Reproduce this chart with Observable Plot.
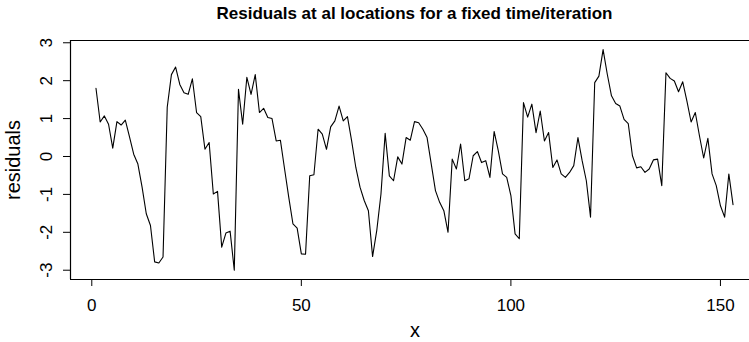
<!DOCTYPE html>
<html>
<head>
<meta charset="utf-8">
<script src="https://cdn.jsdelivr.net/npm/d3@7"></script>
<script src="https://cdn.jsdelivr.net/npm/@observablehq/plot@0.6"></script>
<style>
  html, body { margin: 0; padding: 0; background: #fff; overflow: hidden; }
  #title {
    box-sizing: border-box;
    width: 749px;
    height: 28px;
    padding-left: 80px;
    text-align: center;
    font: bold 17px "Liberation Sans", Arial, Helvetica, sans-serif;
    line-height: 28px;
    color: #000;
  }
  svg { display: block; }
</style>
</head>
<body>
<div id="title">Residuals at al locations for a fixed time/iteration</div>
<div id="chart"></div>
<script>
// Residual at each location (x = 1 … 153) for one fixed time/iteration
const residuals = [
   1.80,  0.91,  1.07,  0.85,  0.22,  0.92,  0.83,  0.96,  0.52,  0.06,
  -0.20, -0.81, -1.51, -1.82, -2.78, -2.81, -2.65,  1.30,  2.16,  2.36,
   1.90,  1.68,  1.64,  2.05,  1.16,  1.05,  0.19,  0.37, -0.99, -0.92,
  -2.39, -2.02, -1.97, -3.00,  1.77,  0.85,  2.09,  1.64,  2.16,  1.16,
   1.27,  1.03,  1.00,  0.41,  0.43, -0.33, -1.08, -1.78, -1.89, -2.57,
  -2.58, -0.51, -0.48,  0.72,  0.59,  0.19,  0.78,  0.94,  1.33,  0.94,
   1.05,  0.41, -0.29, -0.81, -1.16, -1.43, -2.64, -1.95, -0.99,  0.61,
  -0.51, -0.64, -0.01, -0.20,  0.50,  0.43,  0.92,  0.89,  0.72,  0.50,
  -0.20, -0.90, -1.21, -1.43, -2.00, -0.07, -0.33,  0.33, -0.64, -0.59,
   0.02,  0.13, -0.16, -0.11, -0.55,  0.66,  0.15, -0.46, -0.55, -1.03,
  -2.04, -2.17,  1.42,  1.04,  1.38,  0.63,  1.20,  0.41,  0.63, -0.29,
  -0.09, -0.46, -0.55, -0.42, -0.24,  0.50, -0.11, -0.64, -1.60,  1.95,
   2.12,  2.82,  2.17,  1.60,  1.40,  1.33,  0.98,  0.87,  0.02, -0.30,
  -0.27, -0.42, -0.33, -0.09, -0.07, -0.77,  2.21,  2.06,  1.99,  1.71,
   1.97,  1.46,  0.91,  1.16,  0.54, -0.04,  0.48, -0.46, -0.77, -1.30,
  -1.60, -0.46, -1.27
];

const xTicks = [0, 50, 100, 150];
const yTicks = [-3, -2, -1, 0, 1, 2, 3];
const xLabel = "x";
const yLabel = "residuals";

// plotting ranges padded 4% beyond the data, as in a classic R plot
const xDomain = [-5.08, 159.08];
const yDomain = [-3.245, 3.06];

const points = residuals.map((r, i) => ({x: i + 1, r}));

const font = "'Liberation Sans', Arial, Helvetica, sans-serif";

const chart = Plot.plot({
  width: 749,
  height: 314,
  marginLeft: 70,
  marginRight: 0,
  marginTop: 12,
  marginBottom: 63,
  style: {fontFamily: font, fontSize: "17px", color: "#000", background: "#fff", overflow: "visible"},
  x: {domain: xDomain, range: [70, 758], axis: null},
  y: {domain: yDomain, axis: null},
  marks: [
    // box on three sides (right side falls past the page edge)
    Plot.ruleY([yDomain[0], yDomain[1]], {stroke: "#000", strokeWidth: 1.2}),
    Plot.ruleX([xDomain[0]], {stroke: "#000", strokeWidth: 1.2}),

    // x axis: ticks hang below the box
    Plot.axisX(xTicks, {anchor: "bottom", tickSize: 7, tickPadding: 12, fontSize: 17, label: null, stroke: "#000"}),

    // y axis: ticks to the left, labels rotated
    Plot.axisY(yTicks, {anchor: "left", tickSize: 7, tickFormat: () => "", label: null, stroke: "#000"}),
    Plot.text(yTicks, {
      y: (d) => d, text: (d) => String(d),
      frameAnchor: "left", dx: -24, rotate: -90,
      textAnchor: "middle", lineAnchor: "middle", fontSize: 17, fill: "#000"
    }),

    // axis titles
    Plot.text([yLabel], {frameAnchor: "left", dx: -57, rotate: -90, textAnchor: "middle", lineAnchor: "middle", fontSize: 20, fill: "#000"}),
    Plot.text([xLabel], {frameAnchor: "bottom", dx: 5, dy: 51, textAnchor: "middle", lineAnchor: "middle", fontSize: 20, fill: "#000"}),

    // the residual series
    Plot.line(points, {x: "x", y: "r", stroke: "#000", strokeWidth: 1.1})
  ]
});

document.getElementById("chart").append(chart);
</script>
</body>
</html>
